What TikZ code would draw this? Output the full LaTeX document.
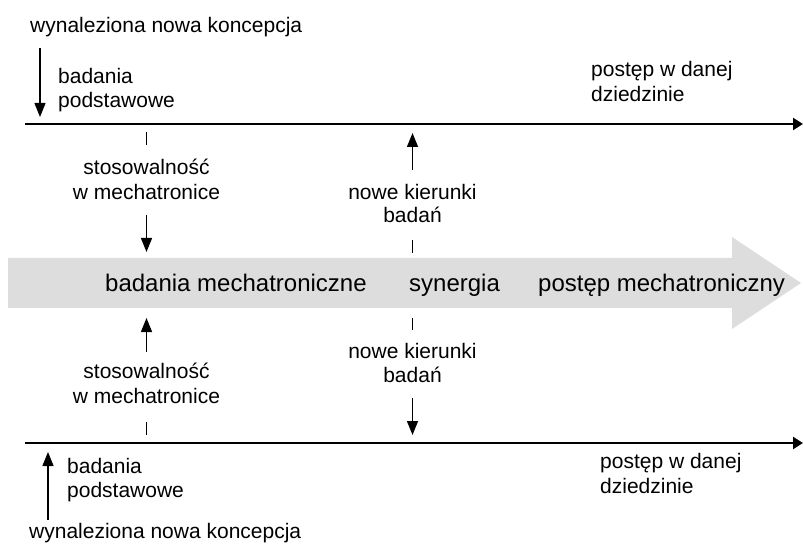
\documentclass[tikz,border=0pt]{standalone}
\usepackage{fontspec}
\setmainfont{Liberation Sans}
\usetikzlibrary{arrows.meta}
\definecolor{bandgray}{RGB}{221,221,221}
\begin{document}
\begin{tikzpicture}[x=1pt,y=-1pt,
  lbl/.style={inner sep=0pt, font=\fontsize{21}{25}\selectfont},
  midtxt/.style={inner sep=0pt, font=\fontsize{24}{28}\selectfont},
  axisline/.style={line width=2.2pt, -{Triangle[length=10pt,width=12pt]}},
  varrow/.style={line width=1.3pt, -{Triangle[length=14pt,width=11pt]}},
  tickline/.style={line width=1.3pt}]
\useasboundingbox (0,0) rectangle (803,545);

% big grey arrow
\fill[bandgray] (8,258) -- (732,258) -- (732,237) -- (801,283) -- (732,329) -- (732,308) -- (8,308) -- cycle;
\node[midtxt, anchor=base west] (bm) at (105,292) {badania mechatroniczne};
\node[midtxt, anchor=base west] (syn) at (409,292) {synergia};
\node[midtxt, anchor=base west] (pm) at (538,292) {postęp mechatroniczny};

% horizontal lines
\coordinate (t0) at (25,124);
\coordinate (t1) at (803,124);
\coordinate (b0) at (25,443);
\coordinate (b1) at (803,443);
\draw[axisline] (t0) -- (t1);
\draw[axisline] (b0) -- (b1);

% top part
\node[lbl, anchor=base west] (wnk1) at (30,33) {wynaleziona nowa koncepcja};
\coordinate (a1s) at (40,48);
\coordinate (a1e) at (40,117);
\draw[varrow] (a1s) -- (a1e);
\node[lbl, anchor=base west] (bp1a) at (58,84) {badania};
\node[lbl, anchor=base west] (bp1b) at (58,108) {podstawowe};
\node[lbl, anchor=base west] (pd1a) at (591,77) {postęp w danej};
\node[lbl, anchor=base west] (pd1b) at (591,102) {dziedzinie};

\coordinate (k1s) at (146.5,132);
\coordinate (k1e) at (146.5,145);
\draw[tickline] (k1s) -- (k1e);
\node[lbl, anchor=base] (sm1a) at (146.5,175) {stosowalność};
\node[lbl, anchor=base] (sm1b) at (146.5,200) {w mechatronice};
\coordinate (s1s) at (146.5,215);
\coordinate (s1e) at (146.5,252);
\draw[varrow] (s1s) -- (s1e);

\coordinate (n1s) at (412.5,170);
\coordinate (n1e) at (412.5,133);
\draw[varrow] (n1s) -- (n1e);
\node[lbl, anchor=base] (nk1a) at (412.5,200) {nowe kierunki};
\node[lbl, anchor=base] (nk1b) at (412.5,223) {badań};
\coordinate (k2s) at (412.5,240);
\coordinate (k2e) at (412.5,253);
\draw[tickline] (k2s) -- (k2e);

% bottom part
\coordinate (s2s) at (146.5,352);
\coordinate (s2e) at (146.5,318);
\draw[varrow] (s2s) -- (s2e);
\node[lbl, anchor=base] (sm2a) at (146.5,378) {stosowalność};
\node[lbl, anchor=base] (sm2b) at (146.5,403) {w mechatronice};
\coordinate (k3s) at (146.5,422);
\coordinate (k3e) at (146.5,435);
\draw[tickline] (k3s) -- (k3e);

\coordinate (k4s) at (412.5,318);
\coordinate (k4e) at (412.5,330);
\draw[tickline] (k4s) -- (k4e);
\node[lbl, anchor=base] (nk2a) at (412.5,358) {nowe kierunki};
\node[lbl, anchor=base] (nk2b) at (412.5,382) {badań};
\coordinate (n2s) at (412.5,398);
\coordinate (n2e) at (412.5,435);
\draw[varrow] (n2s) -- (n2e);

\coordinate (a2s) at (48,520);
\coordinate (a2e) at (48,452);
\draw[varrow] (a2s) -- (a2e);
\node[lbl, anchor=base west] (bp2a) at (67,473) {badania};
\node[lbl, anchor=base west] (bp2b) at (67,497) {podstawowe};
\node[lbl, anchor=base west] (pd2a) at (600,468) {postęp w danej};
\node[lbl, anchor=base west] (pd2b) at (600,493) {dziedzinie};
\node[lbl, anchor=base west] (wnk2) at (29,538) {wynaleziona nowa koncepcja};
\end{tikzpicture}
\end{document}
